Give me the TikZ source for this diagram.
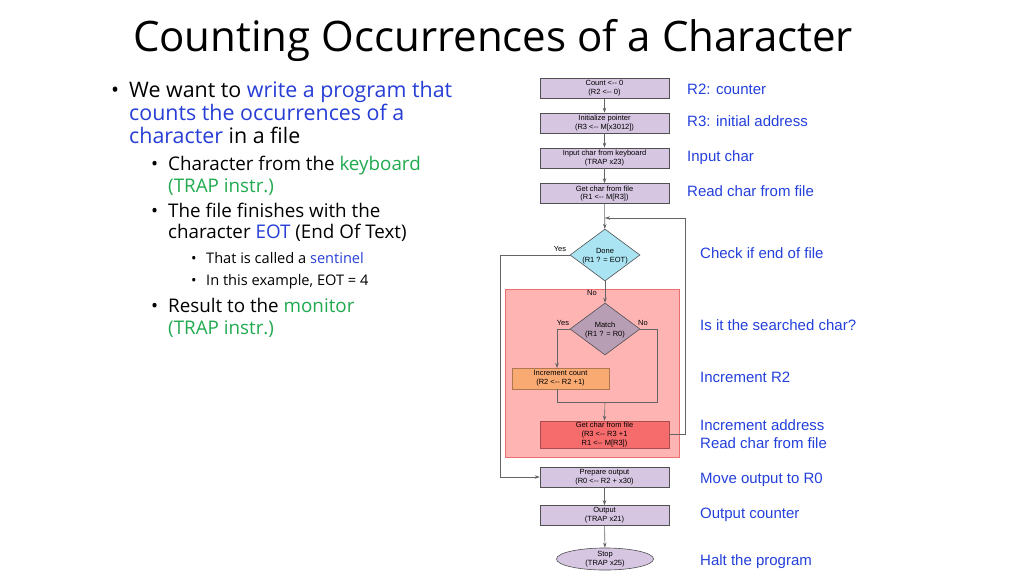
\documentclass[tikz,border=0pt]{standalone}
\usepackage{fontspec}
\setmainfont{Open Sans}
\newfontfamily\arialf{Liberation Sans}
\usetikzlibrary{arrows.meta,shapes.geometric}
\definecolor{tblue}{RGB}{38,62,214}
\definecolor{tgreen}{RGB}{34,170,80}
\definecolor{lblue}{RGB}{36,64,220}
\definecolor{lav}{RGB}{214,198,226}
\definecolor{cyanf}{RGB}{170,228,242}
\definecolor{mauve}{RGB}{184,158,180}
\definecolor{regionf}{RGB}{255,180,180}
\definecolor{regiond}{RGB}{238,110,110}
\definecolor{orangef}{RGB}{249,170,115}
\definecolor{redf}{RGB}{246,108,108}
\definecolor{lineg}{RGB}{100,100,100}
\tikzset{
  pbox/.style={draw=lineg!80!black, line width=0.6pt, fill=lav, minimum width=129pt, minimum height=20pt, inner sep=0pt, align=center, font=\arialf\fontsize{7.5}{8.8}\selectfont, text=black},
  dia/.style={diamond, draw=lineg!80!black, line width=0.6pt, minimum width=70pt, minimum height=52pt, inner sep=0pt},
  ftext/.style={align=center, font=\arialf\fontsize{7.5}{8.8}\selectfont, text=black, inner sep=0pt},
  small/.style={font=\arialf\fontsize{7.5}{8.8}\selectfont, text=black, inner sep=0pt},
  arr/.style={draw=lineg, line width=0.6pt, -{Stealth[length=5pt,width=3.5pt]}},
  ln/.style={draw=lineg, line width=0.6pt},
  note/.style={anchor=base west, inner sep=0pt, text=lblue, font=\arialf\fontsize{15}{18}\selectfont},
  b1/.style={anchor=base west, inner sep=0pt, font=\fontsize{21.4}{24}\selectfont},
  b2/.style={anchor=base west, inner sep=0pt, font=\fontsize{18.8}{22}\selectfont},
  b3/.style={anchor=base west, inner sep=0pt, font=\fontsize{14.6}{19}\selectfont},
}
\begin{document}
\begin{tikzpicture}[x=1pt,y=-1pt]
\useasboundingbox (0,0) rectangle (1024,574);
\fill[white] (0,0) rectangle (1024,574);
% title
\node[anchor=base, inner sep=0pt, font=\fontsize{42}{50}\selectfont] (title) at (493,51) {Counting Occurrences of a Character};
% bullets
\node[b1] (d1) at (111,97) {•};
\node[b1] (l1) at (129,97) {We want to \textcolor{tblue}{write a program that}};
\node[b1] (l2) at (129,120) {\textcolor{tblue}{counts the occurrences of a}};
\node[b1] (l3) at (129,143) {\textcolor{tblue}{character} in a file};
\node[b2] (d2) at (151,170) {•};
\node[b2] (l4) at (168,170) {Character from the \textcolor{tgreen}{keyboard}};
\node[b2] (l5) at (168,192) {\textcolor{tgreen}{(TRAP instr.)}};
\node[b2] (d3) at (151,217) {•};
\node[b2] (l6) at (168,217) {The file finishes with the};
\node[b2] (l7) at (168,238) {character \textcolor{tblue}{EOT} (End Of Text)};
\node[b3] (d4) at (191,263) {•};
\node[b3] (l8) at (206,263) {That is called a \textcolor{tblue}{sentinel}};
\node[b3] (d5) at (191,285) {•};
\node[b3] (l9) at (206,285) {In this example, EOT = 4};
\node[b2] (d6) at (151,312) {•};
\node[b2] (l10) at (168,312) {Result to the \textcolor{tgreen}{monitor}};
\node[b2] (l11) at (168,334) {\textcolor{tgreen}{(TRAP instr.)}};
% region
\node[draw=regiond, line width=1pt, fill=regionf, minimum width=174pt, minimum height=168pt, inner sep=0pt] (region) at (592,373) {};
% boxes
\node[pbox] (bx1) at (604.5,88.5) {Count <-- 0\\(R2 <-- 0)};
\node[pbox] (bx2) at (604.5,123) {Initialize pointer\\(R3 <-- M[x3012])};
\node[pbox] (bx3) at (604.5,158) {Input char from keyboard\\(TRAP x23)};
\node[pbox] (bx4) at (604.5,193.5) {Get char from file\\(R1 <-- M[R3])};
\node[dia, fill=cyanf] (done) at (605,255) {};
\node[ftext] (donet) at (605,256) {Done\\(R1 ? = EOT)};
\node[dia, fill=mauve] (match) at (605,329) {};
\node[ftext] (matcht) at (605,330) {Match\\(R1 ? = R0)};
\node[pbox, fill=orangef, draw=orangef!70!black, minimum width=97pt, minimum height=21pt] (incr) at (560.5,378.5) {Increment count\\(R2 <-- R2 +1)};
\node[pbox, fill=redf, draw=redf!70!black, minimum height=27pt] (getc) at (604.5,434.5) {Get char from file\\(R3 <-- R3 +1\\R1 <-- M[R3])};
\node[pbox] (prep) at (604.5,477) {Prepare output\\(R0 <-- R2 + x30)};
\node[pbox] (outb) at (604.5,515.5) {Output\\(TRAP x21)};
\node[ellipse, draw=lineg!80!black, line width=0.6pt, fill=lav, minimum width=97pt, minimum height=22pt, inner sep=0pt, ftext] (stop) at (605,559) {Stop\\(TRAP x25)};
% labels
\node[small] (yes1) at (560,249) {Yes};
\node[small] (no1) at (592,293) {No};
\node[small] (yes2) at (563,323) {Yes};
\node[small] (no2) at (643,323) {No};
% connectors
\draw[arr] (bx1) -- (bx2);
\draw[arr] (bx2) -- (bx3);
\draw[arr] (bx3) -- (bx4);
\draw[arr] (bx4) -- (done);
\coordinate (join) at (605,218);
\draw[arr] (getc.east) -- ++(16,0) |- (join);
\coordinate (yescorner) at (500,255);
\draw[arr] (done.west) -- (yescorner) |- (prep.west);
\draw[arr] (done) -- (match);
\coordinate (incrtop) at (557,368);
\draw[arr] (match.west) -| (incrtop);
\coordinate (nocorner) at (657,402);
\coordinate (merge) at (605,402);
\draw[ln] (match.east) -| (nocorner) -- (merge);
\draw[ln] (incr.south -| incrtop) |- (merge);
\draw[arr] (merge) -- (getc.north);
\draw[arr] (prep) -- (outb);
\draw[arr] (outb) -- (stop);
% notes
\node[note] (n1) at (687,94) {R2: counter};
\node[note] (n2) at (687,126) {R3: initial address};
\node[note] (n3) at (687,161) {Input char};
\node[note] (n4) at (687,196) {Read char from file};
\node[note] (n5) at (700,258) {Check if end of file};
\node[note] (n6) at (700,330) {Is it the searched char?};
\node[note] (n7) at (700,382) {Increment R2};
\node[note] (n8) at (700,430) {Increment address};
\node[note] (n9) at (700,448) {Read char from file};
\node[note] (n10) at (700,483) {Move output to R0};
\node[note] (n11) at (700,518) {Output counter};
\node[note] (n12) at (700,565) {Halt the program};
\end{tikzpicture}
\end{document}
